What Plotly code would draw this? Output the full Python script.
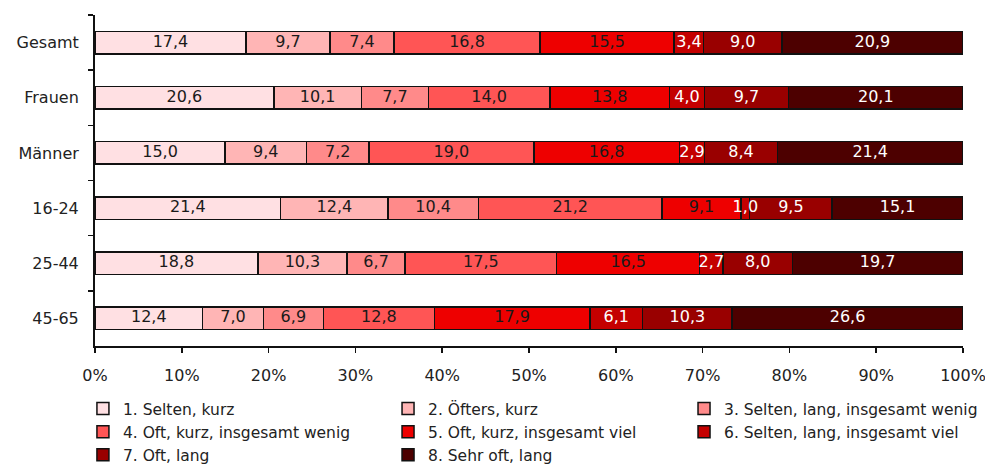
import plotly.graph_objects as go

categories = ["Gesamt", "Frauen", "Männer", "16-24", "25-44", "45-65"]
series_names = [
    "1. Selten, kurz",
    "2. Öfters, kurz",
    "3. Selten, lang, insgesamt wenig",
    "4. Oft, kurz, insgesamt wenig",
    "5. Oft, kurz, insgesamt viel",
    "6. Selten, lang, insgesamt viel",
    "7. Oft, lang",
    "8. Sehr oft, lang",
]
s1 = [17.4, 20.6, 15.0, 21.4, 18.8, 12.4]
s2 = [9.7, 10.1, 9.4, 12.4, 10.3, 7.0]
s3 = [7.4, 7.7, 7.2, 10.4, 6.7, 6.9]
s4 = [16.8, 14.0, 19.0, 21.2, 17.5, 12.8]
s5 = [15.5, 13.8, 16.8, 9.1, 16.5, 17.9]
s6 = [3.4, 4.0, 2.9, 1.0, 2.7, 6.1]
s7 = [9.0, 9.7, 8.4, 9.5, 8.0, 10.3]
s8 = [20.9, 20.1, 21.4, 15.1, 19.7, 26.6]
series_values = [s1, s2, s3, s4, s5, s6, s7, s8]
colors = ["#FFE0E3", "#FFB5B5", "#FF8A8A", "#FF5555", "#EE0000", "#C40000", "#990000", "#4D0000"]
text_colors = ["#1a1a1a", "#1a1a1a", "#1a1a1a", "#1a1a1a", "#1a1a1a", "#ffffff", "#ffffff", "#ffffff"]
x_ticks = [0, 10, 20, 30, 40, 50, 60, 70, 80, 90, 100]
x_ticklabels = [f"{t}%" for t in x_ticks]

FONT = "DejaVu Sans"
FS = 16
LFS = 15.5
TXT = "#222222"

# legend column assignment (row-major layout of 3 columns)
legend_ids = ["legend", "legend2", "legend3"]

fig = go.Figure()
for i, (name, vals, col) in enumerate(zip(series_names, series_values, colors)):
    fig.add_trace(go.Bar(
        y=categories, x=vals, name=name, orientation="h",
        marker=dict(color=col, line=dict(color="#111111", width=1.5)),
        legend=legend_ids[i % 3],
        hoverinfo="skip",
    ))

# value labels drawn on top of all bars (centre of each segment, normalised per row)
totals = [sum(row) for row in zip(*series_values)]
cum = [0.0] * len(categories)
for vals, tcol in zip(series_values, text_colors):
    mids = []
    for j, v in enumerate(vals):
        mids.append((cum[j] + v / 2) / totals[j] * 100)
        cum[j] += v
    fig.add_trace(go.Scatter(
        x=mids, y=categories, mode="text",
        text=[f"{v:.1f}".replace(".", ",") for v in vals],
        textposition="middle center",
        textfont=dict(color=tcol, size=FS, family=FONT),
        showlegend=False, hoverinfo="skip", cliponaxis=False,
    ))

leg_common = dict(
    orientation="v", xanchor="left", xref="paper",
    yref="container", y=0.159, yanchor="top",
    traceorder="normal", bgcolor="rgba(0,0,0,0)",
    font=dict(family=FONT, size=LFS, color=TXT),
    itemclick=False, itemdoubleclick=False,
)

fig.update_layout(
    template="none",
    barmode="stack",
    barnorm="percent",
    bargap=0.59,
    width=985, height=466,
    margin=dict(l=95, r=22, t=15, b=120, autoexpand=False),
    paper_bgcolor="white", plot_bgcolor="white",
    font=dict(family=FONT, size=FS, color=TXT),
    showlegend=True,
    legend=dict(x=-0.0139, **leg_common),
    legend2=dict(x=0.3376, **leg_common),
    legend3=dict(x=0.6786, **leg_common),
    xaxis=dict(
        range=[0, 100], tickvals=x_ticks, ticktext=x_ticklabels,
        showgrid=False, zeroline=False, automargin=False,
        showline=True, linecolor="#111111", linewidth=2,
        ticks="outside", ticklen=5, tickwidth=1.5, tickcolor="#111111",
        ticklabelstandoff=9, ticklabeloverflow="allow",
        tickfont=dict(family=FONT, size=FS, color=TXT),
    ),
    yaxis=dict(
        autorange="reversed", showgrid=False, zeroline=False, automargin=False,
        showline=True, linecolor="#111111", linewidth=2,
        ticks="outside", ticklen=5, tickwidth=1.5, tickcolor="#111111",
        tickson="boundaries", ticklabelstandoff=11,
        tickfont=dict(family=FONT, size=FS, color=TXT),
    ),
)

fig.write_html(
    "out.html",
    config={"displayModeBar": False, "staticPlot": True},
    post_script="document.body.style.margin='0px';document.body.style.overflow='hidden';",
)
